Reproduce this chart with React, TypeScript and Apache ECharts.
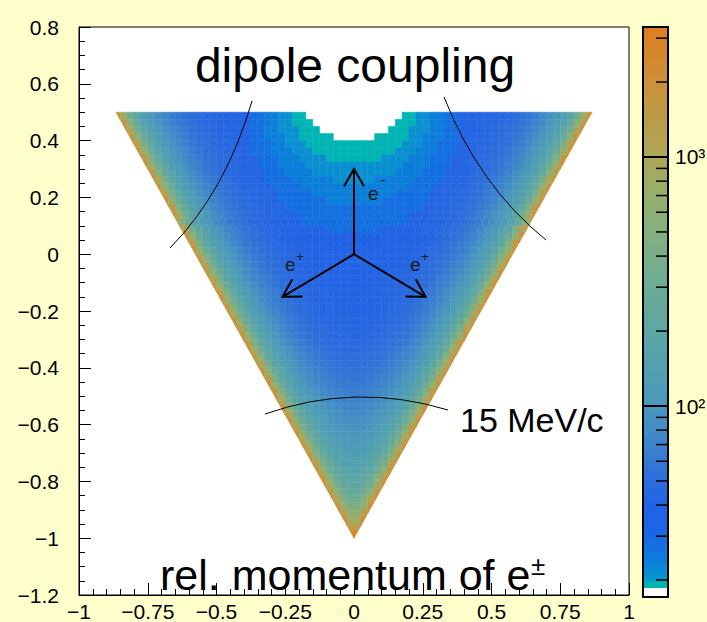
import React, { useEffect, useRef } from 'react';
import * as echarts from 'echarts';

const FONT = '"Liberation Sans", Arial, Helvetica, sans-serif';

// ---- histogram binning (2D histogram of the Dalitz triangle) ----
const BIN_W = 0.025;
const BIN_H = 0.025;
const Y_TOP = 0.5;

// Counts per bin; one row per y-bin from the top (0.5..0.475) downwards,
// each row centred on x = 0. 0 = empty bin.
const ROW_COUNTS: number[][] = [
  [2170,808,316,183,132,104,85,74,65,59,54,50,48,46,44,43,42,41,41,40,28,28,24,24,21,21,19,19,0,0,0,0,0,0,0,0,0,0,0,0,0,0,19,19,21,21,24,24,28,28,40,41,41,42,43,44,46,48,50,54,59,65,74,85,104,132,183,316,808,2170],
  [1610,500,241,157,118,95,80,70,62,57,52,49,47,45,44,43,42,41,40,28,28,24,24,21,21,19,19,19,0,0,0,0,0,0,0,0,0,0,0,0,19,19,19,21,21,24,24,28,28,40,41,42,43,44,45,47,49,52,57,62,70,80,95,118,157,241,500,1610],
  [2220,993,354,195,138,108,88,75,67,60,55,51,48,46,44,43,42,41,41,28,28,24,24,21,21,21,19,19,19,0,0,0,0,0,0,0,0,0,0,19,19,19,21,21,21,24,24,28,28,41,41,42,43,44,46,48,51,55,60,67,75,88,108,138,195,354,993,2220],
  [1760,588,264,166,122,98,82,71,63,57,53,50,47,45,44,43,42,41,28,28,24,24,24,21,21,19,19,19,19,19,0,0,0,0,0,0,19,19,19,19,19,21,21,24,24,24,28,28,41,42,43,44,45,47,50,53,57,63,71,82,98,122,166,264,588,1760],
  [2400,1238,395,209,140,112,90,77,68,61,55,51,49,46,45,43,42,42,28,28,28,24,24,21,21,21,19,19,19,19,19,19,19,19,19,19,19,19,19,19,21,21,21,24,24,28,28,28,42,42,43,45,46,49,51,55,61,68,77,90,112,140,209,395,1238,2400],
  [1990,698,291,175,127,101,84,72,64,58,53,50,48,46,44,43,42,28,28,28,24,24,24,21,21,21,19,19,19,19,19,19,19,19,19,19,19,19,21,21,21,24,24,24,28,28,28,42,43,44,46,48,50,53,58,64,72,84,101,127,175,291,698,1990],
  [2600,1568,453,227,152,115,93,78,69,62,56,52,49,47,45,44,43,42,28,28,28,24,24,24,21,21,21,21,19,19,19,19,19,19,19,19,21,21,21,21,24,24,24,28,28,28,42,43,44,45,47,49,52,56,62,69,78,93,115,152,227,453,1568,2600],
  [2240,848,325,186,133,105,86,74,66,59,54,51,48,46,44,43,42,28,28,28,24,24,24,24,21,21,21,21,21,21,21,21,21,21,21,21,21,21,24,24,24,24,28,28,28,42,43,44,46,48,51,54,59,66,74,86,105,133,186,325,848,2240],
  [1640,523,247,159,119,96,81,70,63,57,52,49,47,45,44,43,42,28,28,28,24,24,24,24,21,21,21,21,21,21,21,21,21,21,21,21,24,24,24,24,28,28,28,42,43,44,45,47,49,52,57,63,70,81,96,119,159,247,523,1640],
  [2270,1053,364,199,140,109,88,76,67,60,55,51,48,46,45,43,42,28,28,28,28,24,24,24,24,24,24,21,21,21,21,21,21,24,24,24,24,24,24,28,28,28,28,42,43,45,46,48,51,55,60,67,76,88,109,140,199,364,1053,2270],
  [1820,613,270,168,124,99,82,71,64,58,53,50,47,45,44,43,42,28,28,28,28,24,24,24,24,24,24,24,24,24,24,24,24,24,24,24,24,28,28,28,28,42,43,44,45,47,50,53,58,64,71,82,99,124,168,270,613,1820],
  [2450,1316,408,213,146,112,91,77,68,61,56,52,49,47,45,44,43,42,28,28,28,28,28,24,24,24,24,24,24,24,24,24,24,24,24,28,28,28,28,28,42,43,44,45,47,49,52,56,61,68,77,91,112,146,213,408,1316,2450],
  [2060,738,300,178,129,102,84,73,65,58,53,50,48,46,44,43,42,28,28,28,28,28,28,28,24,24,24,24,24,24,24,24,28,28,28,28,28,28,28,42,43,44,46,48,50,53,58,65,73,84,102,129,178,300,738,2060],
  [2660,1673,470,232,154,116,94,79,69,62,56,52,49,47,45,44,43,42,28,28,28,28,28,28,28,28,28,28,28,28,28,28,28,28,28,28,28,28,42,43,44,45,47,49,52,56,62,69,79,94,116,154,232,470,1673,2660],
  [2140,898,336,189,135,106,87,74,66,59,54,51,48,46,44,43,42,41,41,28,28,28,28,28,28,28,28,28,28,28,28,28,28,28,28,41,41,42,43,44,46,48,51,54,59,66,74,87,106,135,189,336,898,2140],
  [1670,543,252,162,120,96,81,70,63,57,52,49,47,45,44,43,42,41,40,28,28,28,28,28,28,28,28,28,28,28,28,28,28,28,40,41,42,43,44,45,47,49,52,57,63,70,81,96,120,162,252,543,1670],
  [2320,1118,375,203,141,110,89,76,67,60,55,51,48,46,45,43,42,42,41,40,40,39,28,28,28,28,28,28,28,28,39,40,40,41,42,42,43,45,46,48,51,55,60,67,76,89,110,141,203,375,1118,2320],
  [1880,643,277,171,125,99,83,72,64,58,53,50,47,45,44,43,42,41,41,40,40,39,39,39,38,38,39,39,39,40,40,41,41,42,43,44,45,47,50,53,58,64,72,83,99,125,171,277,643,1880],
  [2510,1408,424,218,148,114,92,77,68,61,56,52,49,47,45,44,43,42,41,40,40,39,39,39,39,39,39,39,39,40,40,41,42,43,44,45,47,49,52,56,61,68,77,92,114,148,218,424,1408,2510],
  [2120,778,309,181,131,103,85,73,65,59,54,50,48,46,44,43,42,41,41,40,40,39,39,39,39,39,39,40,40,41,41,42,43,44,46,48,50,54,59,65,73,85,103,131,181,309,778,2120],
  [1590,486,237,156,117,95,79,70,62,57,52,49,47,45,44,43,42,41,40,40,40,40,40,40,40,40,40,40,41,42,43,44,45,47,49,52,57,62,70,79,95,117,156,237,486,1590],
  [2190,953,346,193,136,107,87,75,66,60,54,51,48,46,44,43,42,41,41,40,40,40,40,40,40,40,40,41,41,42,43,44,46,48,51,54,60,66,75,87,107,136,193,346,953,2190],
  [1730,568,259,164,122,97,82,71,63,57,53,50,47,45,44,43,42,41,41,40,40,40,40,40,40,41,41,42,43,44,45,47,50,53,57,63,71,82,97,122,164,259,568,1730],
  [2370,1188,386,206,143,111,90,76,67,61,55,51,49,46,45,44,43,42,41,41,41,40,40,41,41,41,42,43,44,45,46,49,51,55,61,67,76,90,111,143,206,386,1188,2370],
  [1940,673,284,173,126,100,83,72,64,58,53,50,48,46,44,43,42,42,41,41,41,41,41,41,42,42,43,44,46,48,50,53,58,64,72,83,100,126,173,284,673,1940],
  [2560,1498,441,223,150,115,93,78,69,62,56,52,49,47,45,44,43,42,42,41,41,41,41,42,42,43,44,45,47,49,52,56,62,69,78,93,115,150,223,441,1498,2560],
  [2190,818,318,184,132,104,85,74,65,59,54,50,48,46,45,44,43,42,42,42,42,42,42,43,44,45,46,48,50,54,59,65,74,85,104,132,184,318,818,2190],
  [1610,508,243,157,118,95,80,70,62,57,52,50,47,46,44,44,43,43,42,42,43,43,44,44,46,47,50,52,57,62,70,80,95,118,157,243,508,1610],
  [2240,1008,356,196,138,108,88,75,67,60,55,51,49,47,45,44,44,43,43,43,43,44,44,45,47,49,51,55,60,67,75,88,108,138,196,356,1008,2240],
  [1780,593,266,166,123,98,82,71,63,58,53,50,48,46,45,44,44,44,44,44,44,45,46,48,50,53,58,63,71,82,98,123,166,266,593,1780],
  [2410,1263,399,210,144,111,90,77,68,61,56,52,50,48,46,45,45,44,44,45,45,46,48,50,52,56,61,68,77,90,111,144,210,399,1263,2410],
  [2010,708,293,176,128,101,84,72,65,59,54,51,49,47,46,46,45,45,46,46,47,49,51,54,59,65,72,84,101,128,176,293,708,2010],
  [2620,1597,458,229,153,117,94,79,70,63,58,54,51,50,48,48,47,47,48,48,50,51,54,58,63,70,79,94,117,153,229,458,1597,2620],
  [2260,860,330,189,135,107,88,76,68,62,57,54,52,50,49,49,49,49,50,52,54,57,62,68,76,88,107,135,189,330,860,2260],
  [1640,530,250,162,122,98,83,73,66,60,56,54,52,51,51,51,51,52,54,56,60,66,73,83,98,122,162,250,530,1640],
  [2280,1071,370,203,143,112,92,80,71,65,60,57,55,54,53,53,54,55,57,60,65,71,80,92,112,143,203,370,1071,2280],
  [1840,627,277,173,128,104,88,77,70,64,60,58,56,55,55,56,58,60,64,70,77,88,104,128,173,277,627,1840],
  [2470,1343,417,219,152,119,98,84,75,69,64,61,59,58,58,59,61,64,69,75,84,98,119,152,219,417,1343,2470],
  [2070,754,308,185,136,110,92,81,74,69,65,62,61,61,62,65,69,74,81,92,110,136,185,308,754,2070],
  [2680,1705,481,240,162,126,103,89,80,74,69,66,65,65,66,69,74,80,89,103,126,162,240,481,1705,2680],
  [2170,921,346,200,145,117,98,87,79,74,70,69,69,70,74,79,87,98,117,145,200,346,921,2170],
  [1700,557,263,173,133,109,95,85,79,75,73,73,75,79,85,95,109,133,173,263,557,1700],
  [2340,1143,389,217,156,124,104,93,86,81,78,78,81,86,93,104,124,156,217,389,1143,2340],
  [1910,662,293,186,141,117,101,92,87,84,84,87,92,101,117,141,186,293,662,1910],
  [2530,1443,445,236,167,133,113,101,94,91,91,94,101,113,133,167,236,445,1443,2530],
  [2150,805,330,200,152,126,110,102,99,99,102,110,126,152,200,330,805,2150],
  [1610,511,260,179,143,123,112,108,108,112,123,143,179,260,511,1610],
  [2220,989,372,219,165,138,124,119,119,124,138,165,219,372,989,2220],
  [1760,598,289,196,157,139,131,131,139,157,196,289,598,1760],
  [2400,1236,419,241,183,158,145,145,158,183,241,419,1236,2400],
  [1980,716,324,218,179,164,164,179,218,324,716,1980],
  [2600,1560,488,274,210,189,189,210,274,488,1560,2600],
  [2240,875,377,253,218,218,253,377,875,2240],
  [1680,576,322,260,260,322,576,1680],
  [2310,1100,451,320,320,451,1100,2310],
  [1870,705,419,419,705,1870],
  [2520,1412,599,599,1412,2520],
  [2190,850,850,2190],
  [2850,1400,1400,2850],
  [2800,2800],
];

// kinematic boundary of the Dalitz triangle
const TRIANGLE: number[][] = [[-0.866, 0.5], [0.866, 0.5], [0, -1]];

// colour scale (log10 of counts)
const LOG_MIN = 1.233;
const LOG_MAX = 3.522;
const PAL_LOG = [1.233, 1.268, 1.269, 1.295, 1.296, 1.33, 1.37, 1.43, 1.5, 1.58, 1.66, 1.74, 1.82, 1.9, 2.0, 2.15, 2.3, 2.5, 2.7, 2.87, 3.0, 3.15, 3.31, 3.45, 3.522];
const PAL_COLOR = ['#ffffff', '#ffffff', '#00b4b4', '#00b4b4', '#0898c8', '#0a8ed2', '#0a80d8', '#1272e0', '#1a66e6', '#2062e6', '#2868e0', '#3072d8', '#3a80cf', '#428cc6', '#4a98bc', '#52a0b0', '#5ea6a4', '#6eac94', '#84b07e', '#98ae68', '#aca658', '#bc9c48', '#cc9038', '#d98428', '#e07c20'];
const Z_MINOR_TICKS = [20, 30, 40, 50, 60, 70, 80, 90, 200, 300, 400, 500, 600, 700, 800, 900, 2000, 3000];
const Z_MAJOR_TICKS = [100, 1000];
const Z_MAJOR_LABELS = ['10\u00b2', '10\u00b3'];

// momentum arrows (from, to) in plot coordinates
const ARROWS = [
  [0, 0, 0, 0.3],
  [0, 0, -0.26, -0.15],
  [0, 0, 0.26, -0.15],
];

function hexRgb(h: string) {
  const n = parseInt(h.slice(1), 16);
  return [(n >> 16) & 255, (n >> 8) & 255, n & 255];
}
function colorAt(lv: number) {
  if (lv <= PAL_LOG[0]) return PAL_COLOR[0];
  const last = PAL_LOG.length - 1;
  if (lv >= PAL_LOG[last]) return PAL_COLOR[last];
  let i = 0;
  while (i < last - 1 && lv > PAL_LOG[i + 1]) i++;
  const t = (lv - PAL_LOG[i]) / (PAL_LOG[i + 1] - PAL_LOG[i]);
  const a = hexRgb(PAL_COLOR[i]);
  const b = hexRgb(PAL_COLOR[i + 1]);
  const c = a.map((v, k) => Math.round(v + (b[k] - v) * t));
  return `rgb(${c[0]},${c[1]},${c[2]})`;
}

function clipPolygon(subject: number[][], clip: number[][]) {
  const cx = (clip[0][0] + clip[1][0] + clip[2][0]) / 3;
  const cy = (clip[0][1] + clip[1][1] + clip[2][1]) / 3;
  let out = subject;
  for (let i = 0; i < clip.length; i++) {
    const a = clip[i];
    const b = clip[(i + 1) % clip.length];
    const side = (p: number[]) => (b[0] - a[0]) * (p[1] - a[1]) - (b[1] - a[1]) * (p[0] - a[0]);
    const s0 = side([cx, cy]) > 0 ? 1 : -1;
    const inp = out;
    out = [];
    for (let j = 0; j < inp.length; j++) {
      const P = inp[j];
      const Q = inp[(j + 1) % inp.length];
      const sp = side(P) * s0;
      const sq = side(Q) * s0;
      if (sp >= 0) out.push(P);
      if ((sp >= 0) !== (sq >= 0)) {
        const t = sp / (sp - sq);
        out.push([P[0] + t * (Q[0] - P[0]), P[1] + t * (Q[1] - P[1])]);
      }
    }
    if (!out.length) break;
  }
  return out;
}

function fmtTick(v: number) {
  const r = Math.round(v * 100) / 100;
  if (r === 0) return '0';
  return (r < 0 ? '\u2212' : '') + String(Math.abs(r));
}

function buildOption() {
  const cells: number[][] = [];
  ROW_COUNTS.forEach((row, k) => {
    const yc = Y_TOP - (k + 0.5) * BIN_H;
    const n = row.length / 2;
    row.forEach((c, i) => {
      if (c > 0) cells.push([(i - n + 0.5) * BIN_W, yc, c]);
    });
  });

  const gradStops = PAL_LOG.map((v, i) => ({ offset: (v - LOG_MIN) / (LOG_MAX - LOG_MIN), color: PAL_COLOR[i] }));

  const axisText = { color: '#000', fontSize: 21, fontFamily: FONT };
  const black = { color: '#000', width: 1 };

  const textEl = (x: number, y: number, text: string, size: number, align: string, color = '#000') => ({
    type: 'text', x, y, z: 100,
    style: { text, fontSize: size, fontFamily: FONT, fill: color, align, verticalAlign: 'middle' },
  });
  const curve = (x1: number, y1: number, cpx1: number, cpy1: number, x2: number, y2: number) => ({
    type: 'bezierCurve', z: 100,
    shape: { x1, y1, cpx1, cpy1, x2, y2 },
    style: { stroke: '#000', lineWidth: 1, fill: 'none' },
  });

  return {
    animation: false,
    backgroundColor: '#ffffcc',
    grid: [
      { left: 79, top: 27, width: 550, height: 569, show: true, backgroundColor: '#ffffff', borderColor: '#000', borderWidth: 1 },
      { left: 643, top: 27, width: 25, height: 570, show: false },
    ],
    xAxis: [
      {
        gridIndex: 0, type: 'value', min: -1, max: 1, interval: 0.25,
        axisLine: { show: true, onZero: false, lineStyle: black },
        axisTick: { show: true, inside: true, length: 12, lineStyle: black },
        minorTick: { show: true, splitNumber: 5, length: 6, lineStyle: black },
        axisLabel: { ...axisText, margin: 6, formatter: fmtTick },
        splitLine: { show: false }, minorSplitLine: { show: false },
      },
      { gridIndex: 1, type: 'value', min: 0, max: 1, show: false },
    ],
    yAxis: [
      {
        gridIndex: 0, type: 'value', min: -1.2, max: 0.8, interval: 0.2,
        axisLine: { show: true, onZero: false, lineStyle: black },
        axisTick: { show: true, inside: true, length: 12, lineStyle: black },
        minorTick: { show: true, splitNumber: 4, length: 6, lineStyle: black },
        axisLabel: { ...axisText, margin: 20, formatter: fmtTick },
        splitLine: { show: false }, minorSplitLine: { show: false },
      },
      { gridIndex: 1, type: 'value', min: LOG_MIN, max: LOG_MAX, show: false },
    ],
    series: [
      {
        type: 'custom', xAxisIndex: 0, yAxisIndex: 0, silent: true, data: cells,
        renderItem: (params: any, api: any) => {
          const x = api.value(0), y = api.value(1), c = api.value(2);
          const p0 = api.coord([x - BIN_W / 2, y + BIN_H / 2]);
          const p1 = api.coord([x + BIN_W / 2, y - BIN_H / 2]);
          const rect = [[p0[0], p0[1]], [p1[0], p0[1]], [p1[0], p1[1]], [p0[0], p1[1]]];
          const tri = TRIANGLE.map((v) => api.coord(v));
          const poly = clipPolygon(rect, tri);
          if (poly.length < 3) return null;
          const col = colorAt(Math.log10(c));
          return { type: 'polygon', shape: { points: poly }, style: { fill: col, stroke: col, lineWidth: 0.5 } };
        },
      },
      {
        type: 'custom', xAxisIndex: 0, yAxisIndex: 0, silent: true, data: ARROWS,
        renderItem: (params: any, api: any) => {
          const s = api.coord([api.value(0), api.value(1)]);
          const e = api.coord([api.value(2), api.value(3)]);
          const ang = Math.atan2(e[1] - s[1], e[0] - s[0]);
          const L = 20, A = Math.PI / 6;
          const h1 = [e[0] - L * Math.cos(ang - A), e[1] - L * Math.sin(ang - A)];
          const h2 = [e[0] - L * Math.cos(ang + A), e[1] - L * Math.sin(ang + A)];
          return {
            type: 'group', children: [
              { type: 'line', shape: { x1: s[0], y1: s[1], x2: e[0], y2: e[1] }, style: { stroke: '#000', lineWidth: 2 } },
              { type: 'polyline', shape: { points: [h1, e, h2] }, style: { stroke: '#000', lineWidth: 2, fill: 'none' } },
            ],
          };
        },
      },
      {
        type: 'custom', xAxisIndex: 1, yAxisIndex: 1, silent: true, data: [[0.5, 2]],
        renderItem: (params: any, api: any) => {
          const tl = api.coord([0, LOG_MAX]);
          const br = api.coord([1, LOG_MIN]);
          const shape = { x: tl[0], y: tl[1], width: br[0] - tl[0], height: br[1] - tl[1] };
          return {
            type: 'group', children: [
              { type: 'rect', shape, style: { fill: new echarts.graphic.LinearGradient(0, 1, 0, 0, gradStops) } },
              { type: 'rect', shape, style: { fill: 'none', stroke: '#000', lineWidth: 2 } },
            ],
          };
        },
      },
      {
        type: 'custom', xAxisIndex: 1, yAxisIndex: 1, silent: true,
        data: Z_MINOR_TICKS.map((v) => [1, Math.log10(v)]),
        renderItem: (params: any, api: any) => {
          const p = api.coord([1, api.value(1)]);
          return { type: 'line', shape: { x1: p[0] - 12, y1: p[1], x2: p[0], y2: p[1] }, style: { stroke: '#000', lineWidth: 1.5 } };
        },
      },
      {
        type: 'custom', xAxisIndex: 1, yAxisIndex: 1, silent: true,
        data: Z_MAJOR_TICKS.map((v, i) => [i, Math.log10(v)]),
        renderItem: (params: any, api: any) => {
          const p0 = api.coord([0, api.value(1)]);
          const p1 = api.coord([1, api.value(1)]);
          return {
            type: 'group', children: [
              { type: 'line', shape: { x1: p0[0], y1: p0[1], x2: p1[0], y2: p1[1] }, style: { stroke: '#000', lineWidth: 2 } },
              { type: 'text', x: p1[0] + 7, y: p1[1], style: { text: Z_MAJOR_LABELS[params.dataIndex], fontSize: 21, fontFamily: FONT, fill: '#000', align: 'left', verticalAlign: 'middle' } },
            ],
          };
        },
      },
    ],
    graphic: [
      textEl(355, 65, 'dipole coupling', 48, 'center'),
      textEl(160, 575, 'rel. momentum of e', 43, 'left'),
      textEl(531, 566, '\u00b1', 26, 'left'),
      textEl(460, 420, '15 MeV/c', 34, 'left'),
      textEl(368, 193, 'e', 19, 'left', '#1a1a1a'),
      textEl(383, 180, '-', 14, 'center', '#1a1a1a'),
      textEl(285, 264, 'e', 19, 'left', '#1a1a1a'),
      textEl(300, 256, '+', 13, 'center', '#1a1a1a'),
      textEl(410, 264, 'e', 19, 'left', '#1a1a1a'),
      textEl(425, 256, '+', 13, 'center', '#1a1a1a'),
      curve(252, 101, 226, 191, 170, 248),
      curve(444, 97, 479, 186, 546, 240),
      curve(265, 414, 356, 382, 448, 410),
    ],
  };
}

export default function App() {
  const ref = useRef<HTMLDivElement>(null);
  useEffect(() => {
    const chart = echarts.init(ref.current as HTMLDivElement, null, { renderer: 'svg' });
    chart.setOption(buildOption() as any);
    return () => chart.dispose();
  }, []);
  return <div ref={ref} style={{ position: 'absolute', left: 0, top: 0, width: 707, height: 622 }} />;
}
